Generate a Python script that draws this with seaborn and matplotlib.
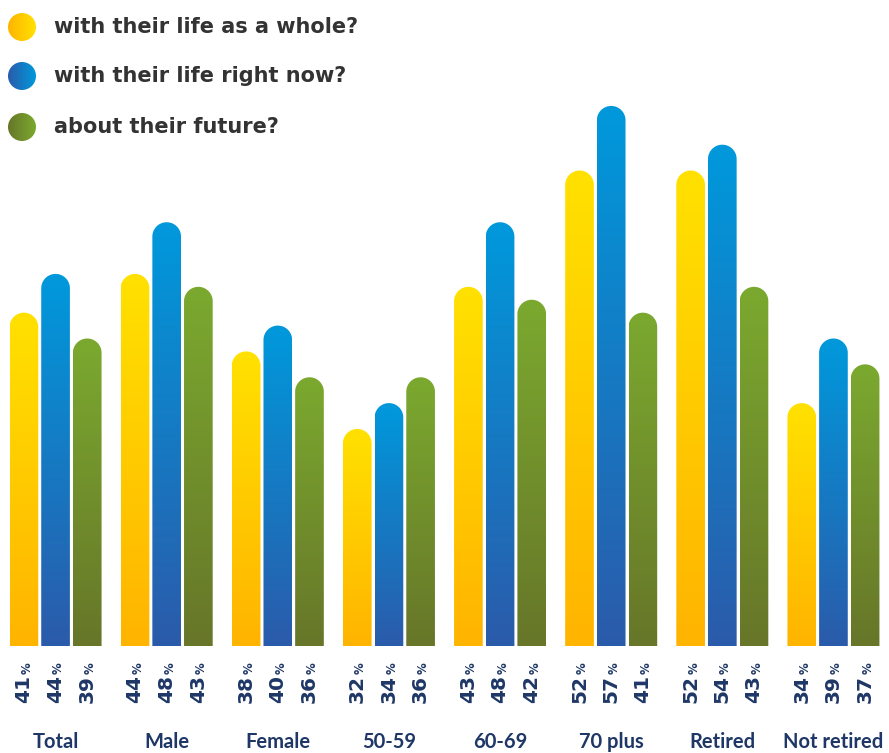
import numpy as np
import pandas as pd
import matplotlib
matplotlib.use("Agg")
import matplotlib.pyplot as plt
import seaborn as sns
from matplotlib.path import Path
from matplotlib.patches import PathPatch, Circle
from matplotlib.colors import LinearSegmentedColormap

# data
groups = ["Total", "Male", "Female", "50-59", "60-69", "70 plus", "Retired", "Not retired"]
questions = ["with their life as a whole?", "with their life right now?", "about their future?"]
life_whole = [41, 44, 38, 32, 43, 52, 52, 34]
life_now = [44, 48, 40, 34, 48, 57, 54, 39]
future = [39, 43, 36, 36, 42, 41, 43, 37]

# gradient colours (top / bottom) for each series
top_colors = ["#FFE100", "#0099DC", "#7BA92F"]
bottom_colors = ["#FFB400", "#2B5BAA", "#677629"]
navy = "#1E3766"

df = pd.DataFrame({
    "group": groups * 3,
    "question": np.repeat(questions, len(groups)),
    "value": life_whole + life_now + future,
})

sns.set_style("white")
plt.rcParams["font.family"] = ["Lato", "DejaVu Sans"]

W, H = 889, 753
fig = plt.figure(figsize=(W / 100, H / 100), dpi=100)
base_px = 646
ax = fig.add_axes([0, 1 - base_px / H, 1, base_px / H])

sns.barplot(data=df, x="group", y="value", hue="question", order=groups,
            hue_order=questions, palette=top_colors, width=0.855, gap=0.095,
            legend=False, ax=ax)

ymin, ymax = 15.2, 65.2
ax.set_xlim(-0.5, len(groups) - 0.5)
ax.set_ylim(ymin, ymax)
ax.axis("off")

px_per_unit = base_px / (ymax - ymin)
px_per_x = W / len(groups)
trans = matplotlib.transforms.blended_transform_factory(ax.transData, fig.transFigure)

# replace plain bars by rounded, gradient-filled ones
grad = np.linspace(0, 1, 256).reshape(-1, 1)
for k, cont in enumerate(ax.containers):
    cmap = LinearSegmentedColormap.from_list("g%d" % k, [bottom_colors[k], top_colors[k]])
    for rect in cont:
        rect.set_visible(False)
        x0 = rect.get_x()
        w = rect.get_width()
        top = rect.get_height()
        r_y = (w * px_per_x / 2) / px_per_unit
        t = np.linspace(np.pi, 0, 40)
        xs = x0 + w / 2 + (w / 2) * np.cos(t)
        ys = top - r_y + r_y * np.sin(t)
        verts = [(x0, ymin - 1)] + list(zip(xs, ys)) + [(x0 + w, ymin - 1), (x0, ymin - 1)]
        codes = [Path.MOVETO] + [Path.LINETO] * (len(verts) - 2) + [Path.CLOSEPOLY]
        patch = PathPatch(Path(verts, codes), facecolor="none", edgecolor="none")
        ax.add_patch(patch)
        im = ax.imshow(grad, cmap=cmap, origin="lower", aspect="auto",
                       extent=(x0, x0 + w, ymin, top), zorder=2)
        im.set_clip_path(patch)

        # value label under the bar
        num = ax.text(x0 + w / 2, 1 - 703 / H, "%d" % round(top), transform=trans,
                      rotation=90, ha="center", va="bottom", fontsize=14.5,
                      fontweight="bold", color=navy, family="DejaVu Sans")
        ax.annotate("%", xy=(1, 1), xycoords=num, xytext=(0, 0.5), textcoords="offset points",
                    rotation=90, ha="right", va="bottom", fontsize=8.5,
                    fontweight="bold", color=navy, family="DejaVu Sans")

ax.set_xlim(-0.5, len(groups) - 0.5)
ax.set_ylim(ymin, ymax)

# group names
for i, g in enumerate(groups):
    ax.text(i, 1 - 742 / H, g, transform=trans, ha="center", va="center",
            fontsize=14.5, color=navy, fontweight="bold")

# legend with gradient dots
lax = fig.add_axes([0, 0, 1, 1], zorder=5)
lax.set_xlim(0, W)
lax.set_ylim(H, 0)
lax.axis("off")
hgrad = np.linspace(0, 1, 256).reshape(1, -1)
for k, (q, cy) in enumerate(zip(questions, [27, 76, 127])):
    cmap = LinearSegmentedColormap.from_list("l%d" % k, [bottom_colors[k], top_colors[k]])
    c = Circle((22, cy), 14, facecolor="none", edgecolor="none")
    lax.add_patch(c)
    im = lax.imshow(hgrad, cmap=cmap, aspect="auto", extent=(8, 36, cy + 14, cy - 14))
    im.set_clip_path(c)
    lax.text(54, cy, q, ha="left", va="center", fontsize=15, fontweight="bold",
             color="#333333", family="DejaVu Sans")
lax.set_xlim(0, W)
lax.set_ylim(H, 0)

fig.savefig("out.png", dpi=100)
